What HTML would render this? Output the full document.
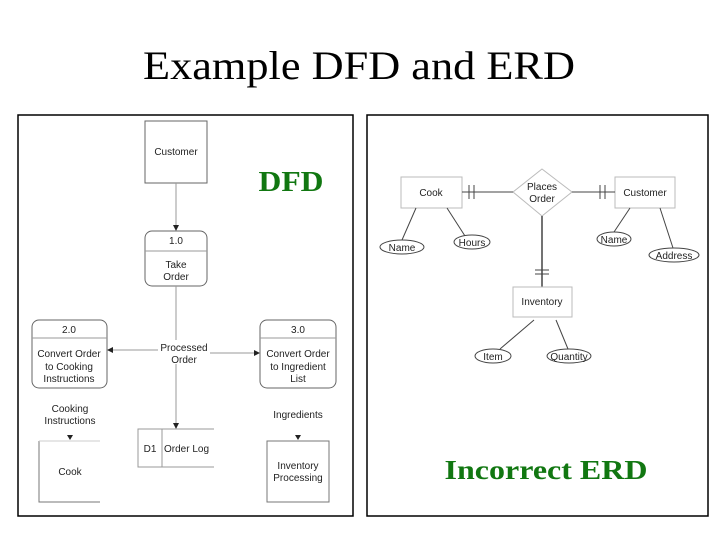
<!DOCTYPE html>
<html><head><meta charset="utf-8"><style>
html,body{margin:0;padding:0;background:#fff;}
svg{display:block;}
</style></head><body>
<svg width="720" height="540" viewBox="0 0 720 540" xmlns="http://www.w3.org/2000/svg">
<defs>
<marker id="ar" markerWidth="6" markerHeight="6" refX="5" refY="3" orient="auto" markerUnits="userSpaceOnUse"><path d="M0,0 L6,3 L0,6 z" fill="#222"/></marker>
</defs>
<rect width="720" height="540" fill="#fff"/>
<text x="359" y="79" font-family="Liberation Serif, serif" font-size="40" text-anchor="middle" textLength="432" lengthAdjust="spacingAndGlyphs" fill="#000">Example DFD and ERD</text>
<!-- frames -->
<rect x="18" y="115" width="335" height="401" fill="none" stroke="#000" stroke-width="1.5"/>
<rect x="367" y="115" width="341" height="401" fill="none" stroke="#000" stroke-width="1.5"/>

<g font-family="Liberation Sans, sans-serif" font-size="10" fill="#222" text-anchor="middle">
<!-- DFD -->
<text x="291" y="191" font-family="Liberation Serif, serif" font-size="29" font-weight="bold" fill="#117711" textLength="65" lengthAdjust="spacingAndGlyphs">DFD</text>
<rect x="145" y="121" width="62" height="62" fill="#fff" stroke="#666"/>
<text x="176" y="155">Customer</text>
<line x1="176" y1="183" x2="176" y2="230" stroke="#999" marker-end="url(#ar)"/>
<rect x="145" y="231" width="62" height="55" rx="7" fill="#fff" stroke="#666"/>
<line x1="145" y1="251" x2="207" y2="251" stroke="#999"/>
<text x="176" y="244">1.0</text>
<text x="176" y="268">Take</text>
<text x="176" y="280">Order</text>
<line x1="176" y1="286" x2="176" y2="428" stroke="#999" marker-end="url(#ar)"/>
<line x1="158" y1="350" x2="108" y2="350" stroke="#999" marker-end="url(#ar)"/>
<line x1="210" y1="353" x2="259" y2="353" stroke="#999" marker-end="url(#ar)"/>
<rect x="158" y="340" width="52" height="24" fill="#fff"/>
<text x="184" y="351">Processed</text>
<text x="184" y="363">Order</text>
<rect x="32" y="320" width="75" height="68" rx="7" fill="#fff" stroke="#666"/>
<line x1="32" y1="338" x2="107" y2="338" stroke="#999"/>
<text x="69" y="333">2.0</text>
<text x="69" y="357">Convert Order</text>
<text x="69" y="370">to Cooking</text>
<text x="69" y="382">Instructions</text>
<rect x="260" y="320" width="76" height="68" rx="7" fill="#fff" stroke="#666"/>
<line x1="260" y1="338" x2="336" y2="338" stroke="#999"/>
<text x="298" y="333">3.0</text>
<text x="298" y="357">Convert Order</text>
<text x="298" y="370">to Ingredient</text>
<text x="298" y="382">List</text>
<text x="70" y="412">Cooking</text>
<text x="70" y="424">Instructions</text>
<path d="M67,435 L73,435 L70,440 z" fill="#222"/>
<text x="298" y="418">Ingredients</text>
<path d="M295,435 L301,435 L298,440 z" fill="#222"/>
<path d="M39,441 V502 H100" fill="none" stroke="#777"/>
<line x1="39" y1="441" x2="100" y2="441" stroke="#ccc"/>
<text x="70" y="475">Cook</text>
<rect x="267" y="441" width="62" height="61" fill="#fff" stroke="#777"/>
<text x="298" y="469">Inventory</text>
<text x="298" y="481">Processing</text>
<path d="M214,429 H138 V467 H214" fill="none" stroke="#999"/>
<line x1="162" y1="429" x2="162" y2="467" stroke="#999"/>
<text x="150" y="452">D1</text>
<text x="164" y="452" text-anchor="start">Order Log</text>

<!-- ERD -->
<rect x="401" y="177" width="61" height="31" fill="#fff" stroke="#bbb"/>
<text x="431" y="196">Cook</text>
<rect x="615" y="177" width="60" height="31" fill="#fff" stroke="#bbb"/>
<text x="645" y="196">Customer</text>
<polygon points="542,169 572,192 542,216 513,192" fill="#fff" stroke="#bbb"/>
<text x="542" y="190">Places</text>
<text x="542" y="202">Order</text>
<line x1="462" y1="192" x2="513" y2="192" stroke="#444"/>
<line x1="469" y1="185" x2="469" y2="199" stroke="#444"/>
<line x1="474" y1="185" x2="474" y2="199" stroke="#444"/>
<line x1="572" y1="192" x2="615" y2="192" stroke="#444"/>
<line x1="600" y1="185" x2="600" y2="199" stroke="#444"/>
<line x1="605" y1="185" x2="605" y2="199" stroke="#444"/>
<line x1="542" y1="216" x2="542" y2="287" stroke="#444" stroke-width="1.5"/>
<line x1="535" y1="270" x2="549" y2="270" stroke="#444"/>
<line x1="535" y1="274" x2="549" y2="274" stroke="#444"/>
<rect x="513" y="287" width="59" height="30" fill="#fff" stroke="#bbb"/>
<text x="542" y="305">Inventory</text>
<g stroke="#444" fill="none">
<line x1="416" y1="208" x2="402" y2="240"/>
<line x1="447" y1="208" x2="465" y2="236"/>
<line x1="630" y1="208" x2="614" y2="232"/>
<line x1="660" y1="208" x2="673" y2="248"/>
<line x1="534" y1="320" x2="500" y2="349"/>
<line x1="556" y1="320" x2="568" y2="349"/>
</g>
<g fill="#fff" stroke="#444">
<ellipse cx="402" cy="247" rx="22" ry="7"/>
<ellipse cx="472" cy="242" rx="18" ry="7"/>
<ellipse cx="614" cy="239" rx="17" ry="7"/>
<ellipse cx="674" cy="255" rx="25" ry="7"/>
<ellipse cx="493" cy="356" rx="18" ry="7"/>
<ellipse cx="569" cy="356" rx="22" ry="7"/>
</g>
<text x="402" y="251">Name</text>
<text x="472" y="246">Hours</text>
<text x="614" y="243">Name</text>
<text x="674" y="259">Address</text>
<text x="493" y="360">Item</text>
<text x="569" y="360">Quantity</text>
<text x="546" y="479" font-family="Liberation Serif, serif" font-size="27" font-weight="bold" fill="#117711" textLength="203" lengthAdjust="spacingAndGlyphs">Incorrect ERD</text>
</g>
</svg>
</body></html>
